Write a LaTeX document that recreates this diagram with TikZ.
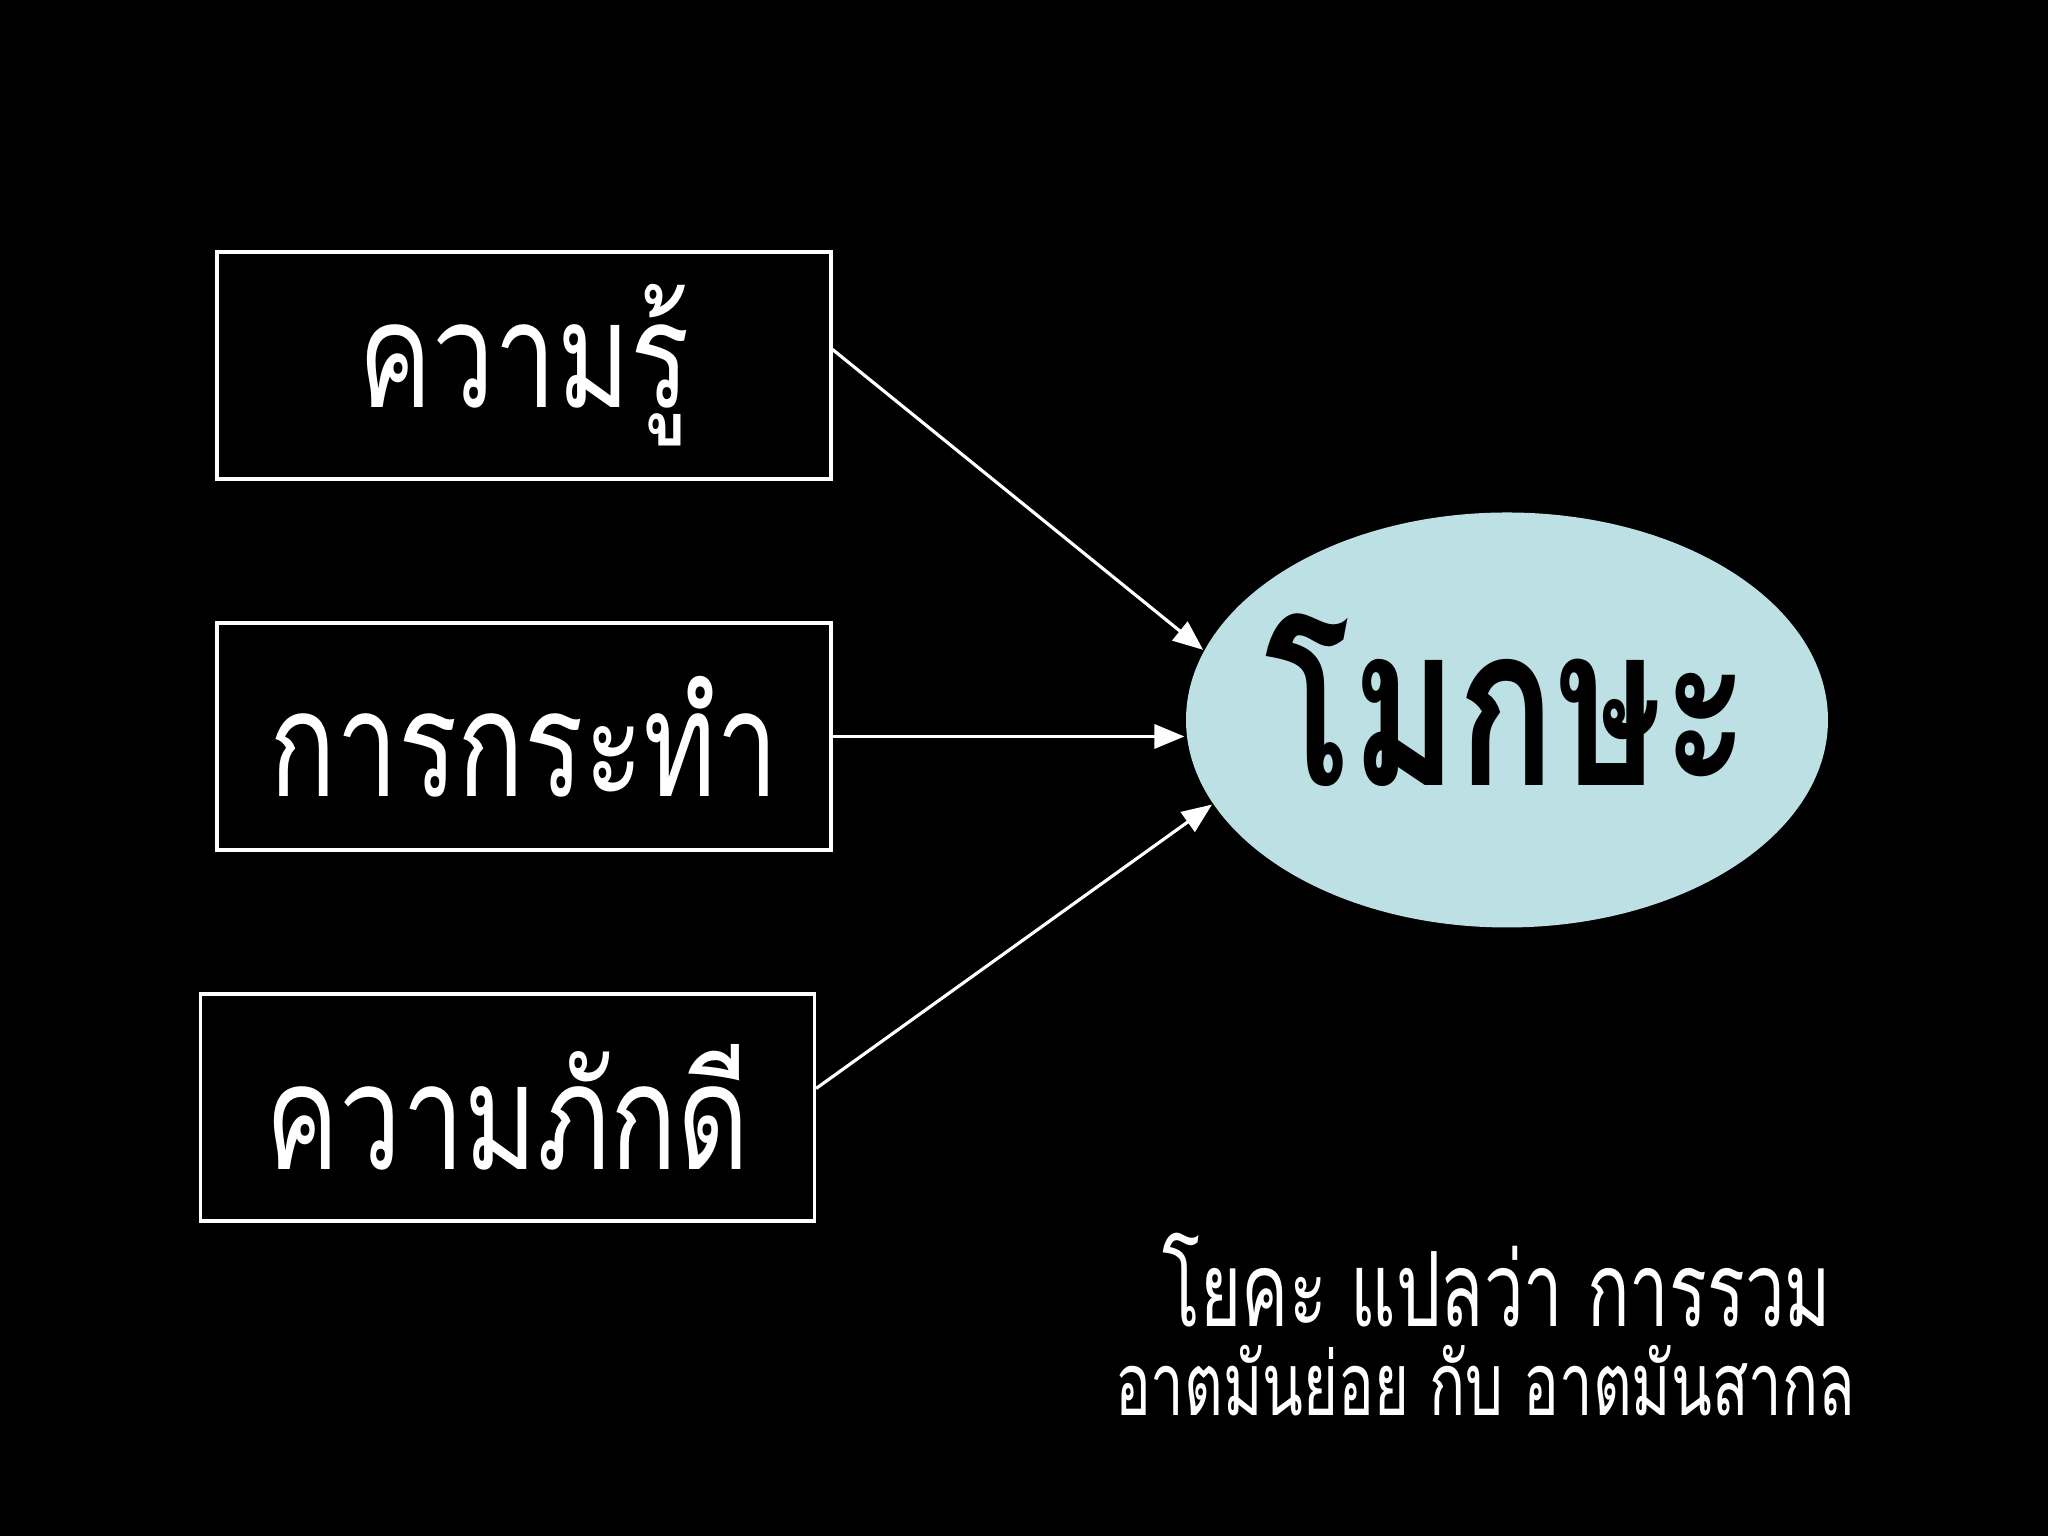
\documentclass[tikz,border=0pt]{standalone}
\usepackage{fontspec}
\newfontfamily\thaifont[Script=Thai, FakeStretch=0.75]{Loma}
\newfontfamily\thaibold[Script=Thai, FakeStretch=0.72]{Loma}
\newfontfamily\thainote[Script=Thai, FakeStretch=0.68]{Loma}
\usetikzlibrary{shapes.geometric,arrows.meta}
\definecolor{mokshablue}{RGB}{188,224,227}
\begin{document}
\begin{tikzpicture}[node distance={37.1mm}, line width=0.9pt, white,
    path/.style = {draw=white, minimum width=61.4mm, minimum height=22.7mm, inner sep=0pt, font=\thaifont\fontsize{42}{50}\selectfont},
    goal/.style = {ellipse, fill=mokshablue, minimum width=64.2mm, minimum height=41.5mm, inner sep=0pt},
    goaltext/.style = {anchor=base, inner sep=0pt, text=black, font=\thaibold\bfseries\fontsize{64}{72}\selectfont},
    note/.style = {anchor=base, inner sep=0pt, font=\thainote\fontsize{29.5}{34}\selectfont},
    arr/.style = {-{Triangle[length=3mm, width=2.4mm]}}]
    \fill[black] (0,0) rectangle (20.48,15.36);
    \useasboundingbox (0,0) rectangle (20.48,15.36);
    \node[path] (know) at (5.24,11.705) {ความรู้};
    \node[path] (act) [below of=know] {การกระทำ};
    \node[path] (love) [below of=act, xshift=-1.65mm] {ความภักดี};
    \node[goal] (moksha) at (15.07,8.16) {};
    \node[goaltext] (mokshaname) at ([yshift=-6.6mm]moksha.center) {โมกษะ};
    \node[note] (yoga) at (14.97,2.09) {โยคะ แปลว่า การรวม};
    \node[note, font=\thainote\fontsize{25}{30}\selectfont] (union) at (14.85,1.2) {อาตมันย่อย กับ อาตมันสากล};
    \draw[arr] ([yshift=1.6mm]know.east) -- (moksha.167);
    \draw[arr] (act.east) -- (act.east -| moksha.west);
    \draw[arr] ([yshift=1.9mm]love.east) -- (moksha.196);
\end{tikzpicture}
\end{document}
